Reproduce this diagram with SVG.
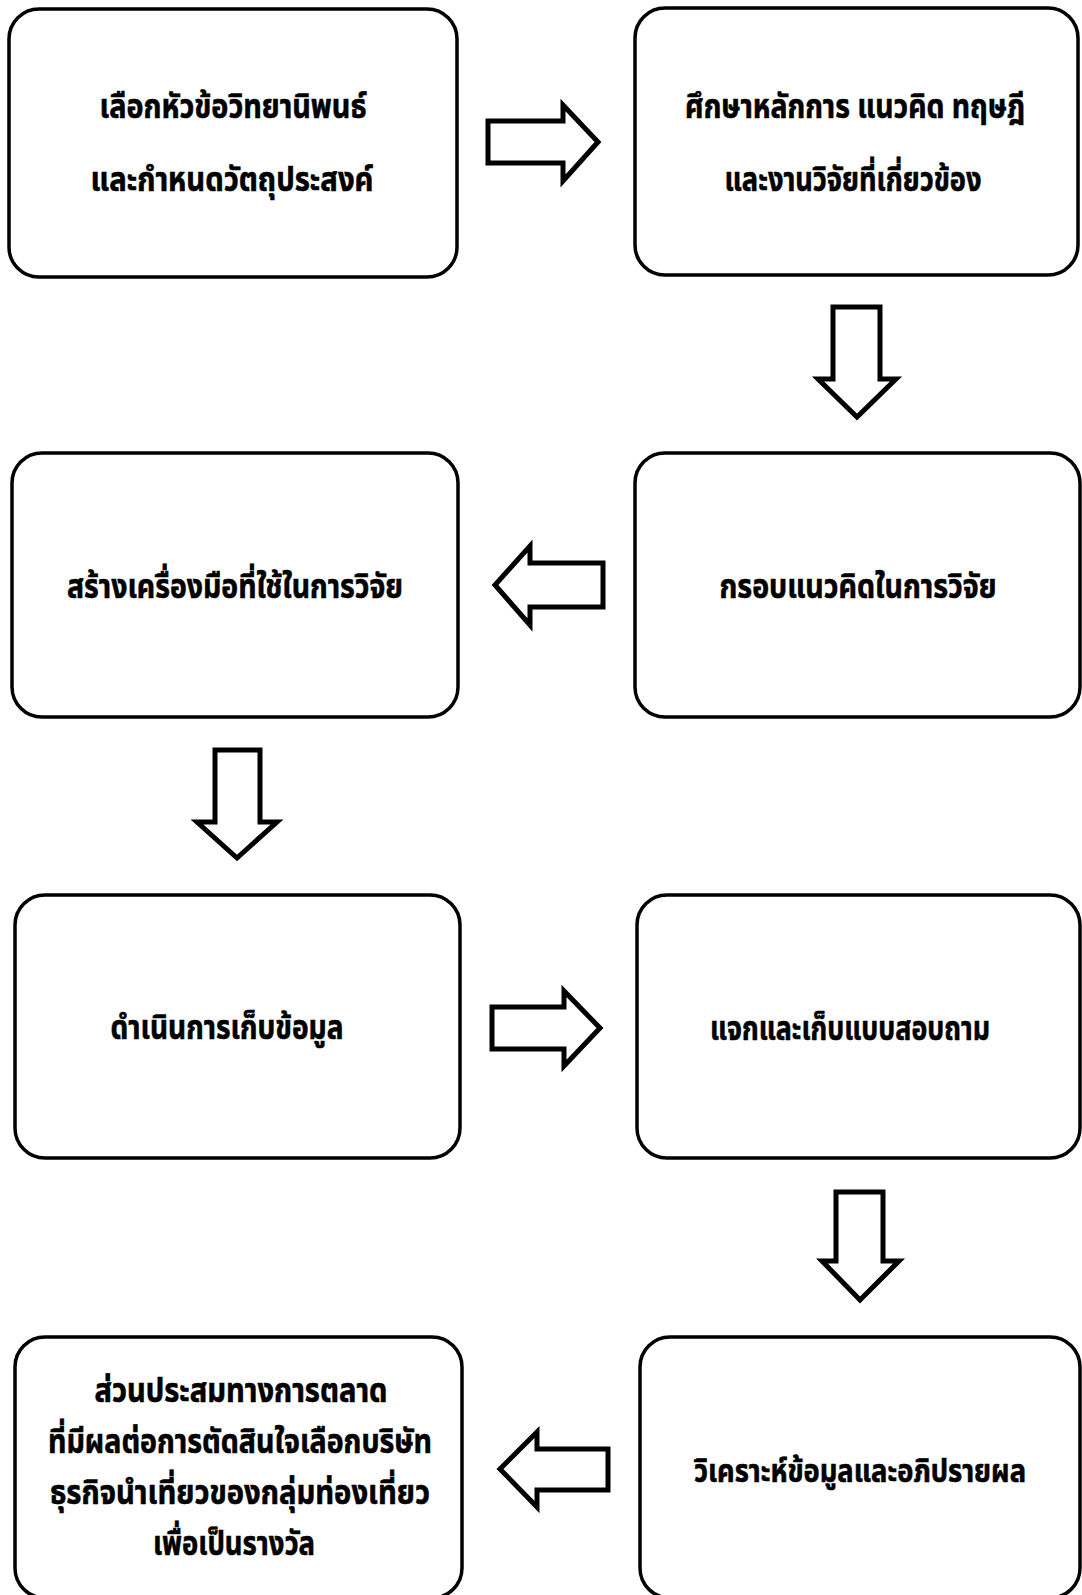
<svg xmlns="http://www.w3.org/2000/svg" width="1082" height="1595" viewBox="0 0 1082 1595">
<style>
.box{fill:#fff;stroke:#000;stroke-width:3.5}
.arr{fill:#fff;stroke:#000;stroke-width:5;stroke-linejoin:miter}
.t{font-family:"Noto Sans Thai","Noto Sans","Loma","Garuda",sans-serif;font-weight:bold;font-size:33px;text-anchor:middle;fill:#000;stroke:#000;stroke-width:0.6}
.s{font-size:31px}
</style>
<rect width="1082" height="1595" fill="#fff"/>
<g id="connectors">
<polygon class="arr" points="488,121 563,121 563,105 598,142 563,181 563,163 488,163"/>
<polygon class="arr" points="833,307 880,307 880,379 896,379 857,417 818,379 833,379"/>
<polygon class="arr" points="603,563 530,563 530,546 495,585 530,625 530,607 603,607"/>
<polygon class="arr" points="215,750 260,750 260,822 277,822 237,858 197,822 215,822"/>
<polygon class="arr" points="492,1007 564,1007 564,991 600,1028 564,1066 564,1049 492,1049"/>
<polygon class="arr" points="836,1192 883,1192 883,1261 899,1261 860,1300 822,1261 836,1261"/>
<polygon class="arr" points="608,1449 537,1449 537,1432 500,1469 537,1507 537,1490 608,1490"/>
</g>
<g id="n1"><rect class="box" x="9" y="9" width="448" height="268" rx="30"/>
<text class="t" x="233" y="118" textLength="267" lengthAdjust="spacingAndGlyphs">เลือกหัวข้อวิทยานิพนธ์</text>
<text class="t" x="232" y="191" textLength="283" lengthAdjust="spacingAndGlyphs">และกำหนดวัตถุประสงค์</text></g>
<g id="n2"><rect class="box" x="635" y="8" width="443" height="267" rx="30"/>
<text class="t" x="855" y="118" textLength="340" lengthAdjust="spacingAndGlyphs">ศึกษาหลักการ แนวคิด ทฤษฎี</text>
<text class="t" x="853" y="191" textLength="257" lengthAdjust="spacingAndGlyphs">และงานวิจัยที่เกี่ยวข้อง</text></g>
<g id="n3"><rect class="box" x="635" y="453" width="445" height="264" rx="30"/>
<text class="t" x="858" y="598" textLength="277" lengthAdjust="spacingAndGlyphs">กรอบแนวคิดในการวิจัย</text></g>
<g id="n4"><rect class="box" x="12" y="453" width="446" height="264" rx="30"/>
<text class="t" x="235" y="598" textLength="336" lengthAdjust="spacingAndGlyphs">สร้างเครื่องมือที่ใช้ในการวิจัย</text></g>
<g id="n5"><rect class="box" x="15" y="895" width="445" height="263" rx="30"/>
<text class="t" x="227" y="1039" textLength="233" lengthAdjust="spacingAndGlyphs">ดำเนินการเก็บข้อมูล</text></g>
<g id="n6"><rect class="box" x="637" y="895" width="443" height="263" rx="30"/>
<text class="t" x="850" y="1040" textLength="280" lengthAdjust="spacingAndGlyphs">แจกและเก็บแบบสอบถาม</text></g>
<g id="n7"><rect class="box" x="640" y="1337" width="440" height="261" rx="30"/>
<text class="t s" x="860" y="1482" textLength="332" lengthAdjust="spacingAndGlyphs">วิเคราะห์ข้อมูลและอภิปรายผล</text></g>
<g id="n8"><rect class="box" x="15" y="1337" width="447" height="261" rx="30"/>
<text class="t" x="241" y="1402" textLength="293" lengthAdjust="spacingAndGlyphs">ส่วนประสมทางการตลาด</text>
<text class="t" x="240" y="1453" textLength="384" lengthAdjust="spacingAndGlyphs">ที่มีผลต่อการตัดสินใจเลือกบริษัท</text>
<text class="t" x="240" y="1504" textLength="380" lengthAdjust="spacingAndGlyphs">ธุรกิจนำเที่ยวของกลุ่มท่องเที่ยว</text>
<text class="t" x="234" y="1555" textLength="162" lengthAdjust="spacingAndGlyphs">เพื่อเป็นรางวัล</text></g>
</svg>
